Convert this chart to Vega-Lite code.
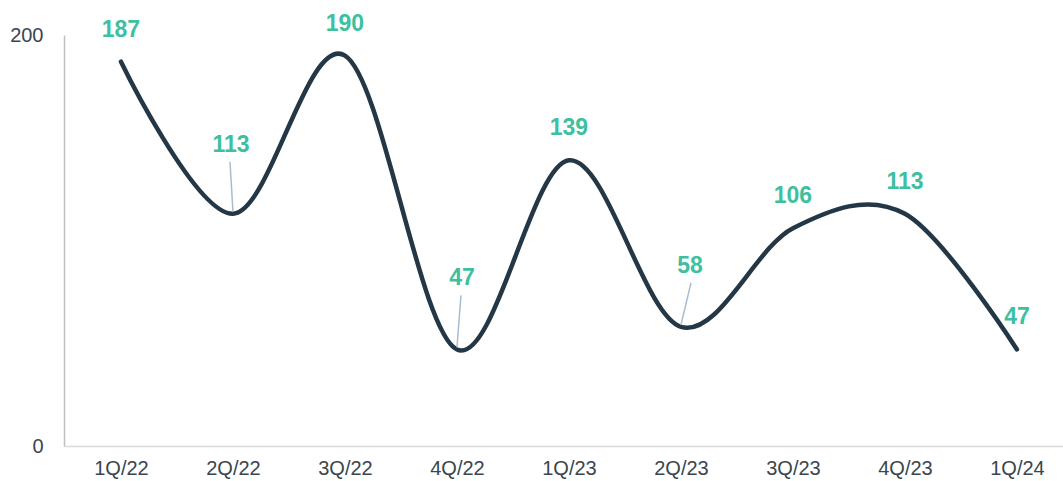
{
  "$schema": "https://vega.github.io/schema/vega-lite/v6.json",
  "width": 999,
  "height": 411,
  "autosize": {"type": "none"},
  "padding": {"left": 64, "top": 35, "right": 0, "bottom": 35},
  "background": "white",
  "config": {"view": {"stroke": null}, "font": "Liberation Sans"},
  "data": {"values": [
    {"quarter": "1Q/22", "value": 187},
    {"quarter": "2Q/22", "value": 113},
    {"quarter": "3Q/22", "value": 190},
    {"quarter": "4Q/22", "value": 47},
    {"quarter": "1Q/23", "value": 139},
    {"quarter": "2Q/23", "value": 58},
    {"quarter": "3Q/23", "value": 106},
    {"quarter": "4Q/23", "value": 113},
    {"quarter": "1Q/24", "value": 47}
  ]},
  "encoding": {
    "x": {"field": "quarter", "type": "ordinal", "sort": null,
      "scale": {"type": "point", "padding": 0.46, "align": 0.553},
      "axis": {"title": null, "labelAngle": 0, "ticks": false, "domainColor": "#D9D9D9", "domainWidth": 1.5,
        "labelFont": "Liberation Sans", "labelFontSize": 20, "labelColor": "#3A4550", "labelPadding": 12}},
    "y": {"field": "value", "type": "quantitative",
      "scale": {"domain": [0, 200], "nice": false},
      "axis": {"title": null, "values": [0, 200], "grid": false, "ticks": false, "domainColor": "#BFBFBF", "domainWidth": 1.5,
        "labelFont": "Liberation Sans", "labelFontSize": 20, "labelColor": "#3A4550", "labelPadding": 21}}
  },
  "layer": [
    {"mark": {"type": "line", "interpolate": "cardinal", "tension": 0, "color": "#243746", "strokeWidth": 4.5, "strokeCap": "round"}},
    {"transform": [{"filter": "datum.quarter != '2Q/22' && datum.quarter != '4Q/22' && datum.quarter != '2Q/23'"}],
      "mark": {"type": "text", "fontWeight": "bold", "fontSize": 23, "color": "#3DBFA0", "baseline": "middle", "dy": -32},
      "encoding": {"text": {"field": "value", "type": "quantitative"}}},
    {"transform": [{"filter": "datum.quarter == '2Q/22'"}],
      "mark": {"type": "text", "fontWeight": "bold", "fontSize": 23, "color": "#3DBFA0", "baseline": "middle", "dy": -69, "dx": -2},
      "encoding": {"text": {"field": "value", "type": "quantitative"}}},
    {"transform": [{"filter": "datum.quarter == '4Q/22'"}],
      "mark": {"type": "text", "fontWeight": "bold", "fontSize": 23, "color": "#3DBFA0", "baseline": "middle", "dy": -71, "dx": 5},
      "encoding": {"text": {"field": "value", "type": "quantitative"}}},
    {"transform": [{"filter": "datum.quarter == '2Q/23'"}],
      "mark": {"type": "text", "fontWeight": "bold", "fontSize": 23, "color": "#3DBFA0", "baseline": "middle", "dy": -61, "dx": 9},
      "encoding": {"text": {"field": "value", "type": "quantitative"}}},
    {"transform": [{"filter": "datum.quarter == '2Q/22'"}],
      "mark": {"type": "rule", "color": "#A9BBD0", "strokeWidth": 1.5, "yOffset": -2, "y2Offset": -52, "x2Offset": -3},
      "encoding": {"x2": {"field": "quarter"}, "y2": {"field": "value"}}},
    {"transform": [{"filter": "datum.quarter == '4Q/22'"}],
      "mark": {"type": "rule", "color": "#A9BBD0", "strokeWidth": 1.5, "yOffset": -2, "y2Offset": -54, "x2Offset": 4},
      "encoding": {"x2": {"field": "quarter"}, "y2": {"field": "value"}}},
    {"transform": [{"filter": "datum.quarter == '2Q/23'"}],
      "mark": {"type": "rule", "color": "#A9BBD0", "strokeWidth": 1.5, "yOffset": -2, "y2Offset": -44, "x2Offset": 10},
      "encoding": {"x2": {"field": "quarter"}, "y2": {"field": "value"}}}
  ]
}
